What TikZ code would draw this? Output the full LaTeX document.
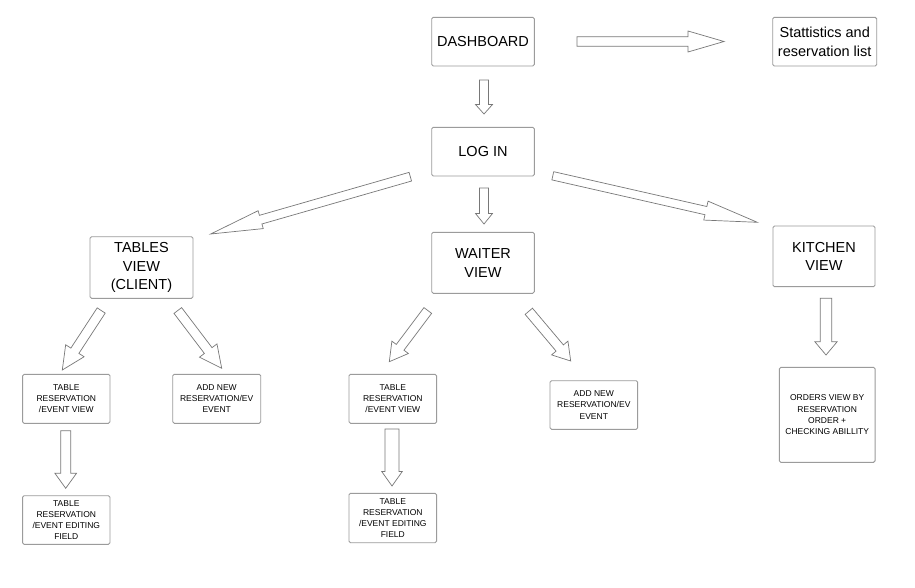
\documentclass[tikz,border=0pt]{standalone}
\usepackage{fontspec}
\setmainfont{Liberation Sans}
\usetikzlibrary{calc}
\definecolor{boxline}{RGB}{155,155,155}
\definecolor{arrline}{RGB}{120,120,120}
\tikzset{
  box/.style={draw=boxline, line width=0.9pt, rounded corners=1.5pt, fill=white,
    inner sep=0pt, align=center, text=black},
  bigbox/.style={box, font=\fontsize{14.5}{18.5}\selectfont},
  smallbox/.style={box, font=\fontsize{8.5}{11.2}\selectfont},
  blockarr/.style={draw=arrline, line width=0.7pt, fill=white, line join=miter}
}
\newcommand\barrow[5]{%
  \coordinate (bb) at ($(#2)!#5!(#1)$);
  \draw[blockarr] ($(#1)!#3!90:(#2)$) -- ($(bb)!#3!90:(#2)$) -- ($(bb)!#4!90:(#2)$)
    -- (#2) -- ($(bb)!#4!-90:(#2)$) -- ($(bb)!#3!-90:(#2)$) -- ($(#1)!#3!-90:(#2)$) -- cycle;
}
\begin{document}
\begin{tikzpicture}[x=1pt,y=-1pt]
\path[use as bounding box, fill=white] (0,0) rectangle (915,588);

% main nodes
\node[bigbox, minimum width=102.6pt, minimum height=48.7pt] (dash) at (483,41.7) {DASHBOARD};
\node[bigbox, minimum width=104pt, minimum height=48.7pt] (stats) at (824.7,41.7) {Stattistics and\\reservation list};
\node[bigbox, minimum width=102.6pt, minimum height=48.7pt] (login) at (483,151.7) {LOG IN};
\node[bigbox, minimum width=103pt, minimum height=61.6pt] (tables) at (141.5,267.5) {TABLES\\VIEW\\(CLIENT)};
\node[bigbox, minimum width=102.6pt, minimum height=61pt] (waiter) at (483,262.8) {WAITER\\VIEW};
\node[bigbox, minimum width=102pt, minimum height=60.7pt] (kitchen) at (824,256.3) {KITCHEN\\VIEW};

% small nodes
\node[smallbox, minimum width=87.3pt, minimum height=49pt] (tv1) at (66.3,398.8) {TABLE\\RESERVATION\\/EVENT VIEW};
\node[smallbox, minimum width=88pt, minimum height=49pt] (add1) at (216.7,398.8) {ADD NEW\\RESERVATION/EV\\EVENT};
\node[smallbox, minimum width=87.3pt, minimum height=48.6pt] (ed1) at (66.3,520) {TABLE\\RESERVATION\\/EVENT EDITING\\FIELD};
\node[smallbox, minimum width=87.7pt, minimum height=49pt] (tv2) at (392.8,398.8) {TABLE\\RESERVATION\\/EVENT VIEW};
\node[smallbox, minimum width=87.7pt, minimum height=48.6pt] (add2) at (593.8,405) {ADD NEW\\RESERVATION/EV\\EVENT};
\node[smallbox, minimum width=87.7pt, minimum height=49.4pt] (ed2) at (392.8,518) {TABLE\\RESERVATION\\/EVENT EDITING\\FIELD};
\node[smallbox, minimum width=95.7pt, minimum height=95pt] (orders) at (827.2,414.8) {ORDERS VIEW BY\\RESERVATION\\ORDER +\\CHECKING ABILLITY};

% arrow end coordinates
\coordinate (a1s) at (577,41.5);   \coordinate (a1e) at (724,41.5);
\coordinate (a2s) at (484,80);     \coordinate (a2e) at (484,114);
\coordinate (a3s) at (484,188);    \coordinate (a3e) at (484,224);
\coordinate (a4s) at (410.3,176.7); \coordinate (a4e) at (210.7,234);
\coordinate (a5s) at (552.8,175.8); \coordinate (a5e) at (757.3,222.3);
\coordinate (a6s) at (101.2,310.5); \coordinate (a6e) at (62.3,370);
\coordinate (a7s) at (177.8,310.5); \coordinate (a7e) at (221.7,368.3);
\coordinate (a8s) at (427.8,310.5); \coordinate (a8e) at (389.3,361.7);
\coordinate (a9s) at (528.8,311.3); \coordinate (a9e) at (570.7,361);
\coordinate (a10s) at (65.7,430.7); \coordinate (a10e) at (65.7,488.3);
\coordinate (a11s) at (392,429);    \coordinate (a11e) at (392,486);
\coordinate (a12s) at (826,298.3);  \coordinate (a12e) at (826,355);

\barrow{a1s}{a1e}{4.7pt}{10.5pt}{36pt}
\barrow{a2s}{a2e}{4.5pt}{8.5pt}{9.5pt}
\barrow{a3s}{a3e}{4.5pt}{8.5pt}{10.5pt}
\barrow{a4s}{a4e}{4.5pt}{9.3pt}{52pt}
\barrow{a5s}{a5e}{4.2pt}{9.7pt}{52.7pt}
\barrow{a6s}{a6e}{4.8pt}{11pt}{23pt}
\barrow{a7s}{a7e}{4.8pt}{11pt}{22.3pt}
\barrow{a8s}{a8e}{4.8pt}{10.3pt}{18pt}
\barrow{a9s}{a9e}{4.8pt}{10.7pt}{17pt}
\barrow{a10s}{a10e}{5pt}{10.8pt}{15pt}
\barrow{a11s}{a11e}{7pt}{10.3pt}{14.5pt}
\barrow{a12s}{a12e}{5.8pt}{11.2pt}{13.3pt}
\end{tikzpicture}
\end{document}
